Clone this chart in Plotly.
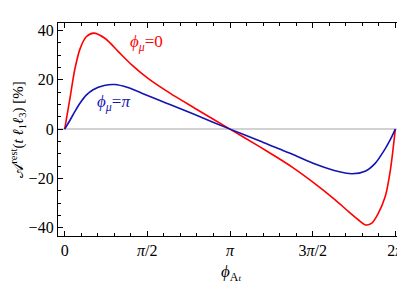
import math
import plotly.graph_objects as go

PI = math.pi

# phi_mu = 0 (red)
red_x = [0.0, 0.10, 0.19, 0.29, 0.41, 0.55, 0.77, 1.02, 1.28, 1.59, 2.0, 2.48, PI,
         3.71, 4.0, 4.35, 4.76, 5.14, 5.39, 5.59, 5.72, 5.83, 5.95, 6.09, 6.19, 2 * PI]
red_y = [0.0, 12.5, 24.0, 32.5, 37.5, 39.0, 36.8, 31.5, 26.0, 20.5, 14.6, 8.4, 0.0,
         -7.2, -11.0, -15.8, -22.2, -28.7, -33.4, -37.0, -38.9, -38.3, -34.6, -27.5, -16.5, 0.0]

# phi_mu = pi (blue)
blue_x = [0.0, 0.095, 0.19, 0.29, 0.41, 0.54, 0.75, 0.95, 1.2, 1.49, 1.81, 2.0, 2.46, PI,
          3.71, 4.0, 4.35, 4.76, 5.14, 5.46, 5.71, 5.90, 6.09, 6.19, 2 * PI]
blue_y = [0.0, 3.4, 7.0, 10.5, 13.8, 16.0, 17.7, 18.1, 16.9, 14.4, 11.6, 10.0, 6.0, 0.0,
          -4.8, -7.4, -10.4, -14.2, -16.9, -18.1, -17.1, -13.9, -8.0, -4.2, 0.0]

x_tickvals = [0, PI / 2, PI, 3 * PI / 2, 2 * PI]
x_ticktext = ["0", "<i>π</i>/2", "<i>π</i>", "3<i>π</i>/2", "2<i>π</i>"]
y_tickvals = [-40, -20, 0, 20, 40]

RED = "#ff0000"
BLUE = "#1414b4"
FONT = "Liberation Serif"

fig = go.Figure()
fig.add_trace(go.Scatter(x=red_x, y=red_y, mode="lines", line=dict(color=RED, width=1.6, shape="spline", smoothing=0.8),
                         showlegend=False, hoverinfo="skip"))
fig.add_trace(go.Scatter(x=blue_x, y=blue_y, mode="lines", line=dict(color=BLUE, width=1.6, shape="spline", smoothing=0.8),
                         showlegend=False, hoverinfo="skip"))

fig.add_annotation(x=1.56, y=34.8, text="<i>ϕ</i><sub><i>μ</i></sub>=0", showarrow=False,
                   font=dict(family=FONT, size=17, color=RED))
fig.add_annotation(x=0.93, y=10.8, text="<i>ϕ</i><sub><i>μ</i></sub>=<i>π</i>", showarrow=False,
                   font=dict(family=FONT, size=17, color=BLUE))

# x-axis title as a paper-anchored annotation so it can sit a little lower
fig.add_annotation(xref="paper", yref="paper", x=0.5, y=-0.172, xanchor="center", yanchor="middle",
                   text="<i>ϕ</i><sub>A<span style='font-size:9px'><i>t</i></span></sub>", showarrow=False,
                   font=dict(family=FONT, size=17, color="black"))

# page body has an 8px margin, so the figure is sized/margined to land at the same pixels
fig.update_layout(
    width=397, height=279,
    margin=dict(l=50, r=2, t=15, b=51),
    paper_bgcolor="white", plot_bgcolor="white",
    font=dict(family=FONT, size=16, color="black"),
    xaxis=dict(range=[-0.127, 2 * PI + 0.146], tickvals=x_tickvals, ticktext=x_ticktext,
               showgrid=False, zeroline=False, showline=True, linecolor="black", linewidth=1.3,
               mirror="ticks", ticks="inside", ticklen=5, tickwidth=1, tickcolor="black",
               minor=dict(tick0=0, dtick=PI / 10, ticks="inside", ticklen=2.5, tickwidth=1, tickcolor="black")),
    yaxis=dict(range=[-43.4, 43.1], tickvals=y_tickvals,
               showgrid=False, zeroline=True, zerolinecolor="#d2d2d2", zerolinewidth=1.5,
               showline=True, linecolor="black", linewidth=1.3,
               mirror="ticks", ticks="inside", ticklen=5, tickwidth=1, tickcolor="black",
               minor=dict(dtick=5, ticks="inside", ticklen=2.5, tickwidth=1, tickcolor="black"),
               title=dict(text="𝒜<sup>rest</sup>(<i>t</i> <i>ℓ</i><sub>1</sub><i>ℓ</i><sub>3</sub>) [%]",
                          font=dict(size=15), standoff=4)),
)

fig.write_html("out.html")
